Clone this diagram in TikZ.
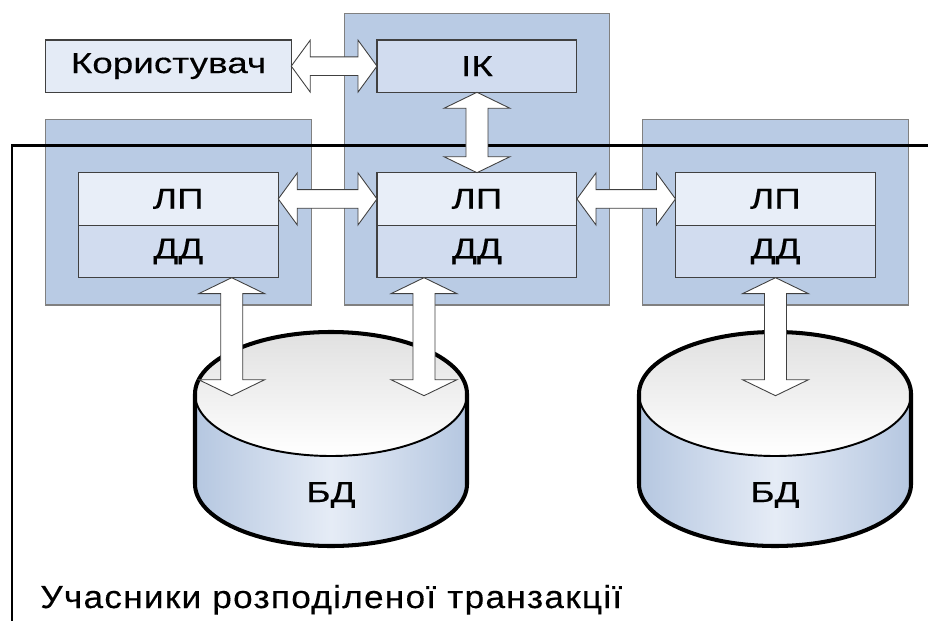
\documentclass[tikz,border=0pt]{standalone}
\usepackage{fontspec}
\setmainfont{Liberation Sans}
\newfontfamily\lblfont{Liberation Sans}[FakeStretch=1.28,FakeBold=0.3]
\newfontfamily\capfont{Liberation Sans}[FakeStretch=1.1,LetterSpace=4,FakeBold=0.3]
\usetikzlibrary{calc,positioning}

\tikzset{
  lbl/.style={font=\lblfont\fontsize{16.4}{19}\selectfont},
  outerbox/.style={draw=cedge,fill=couter,line width=0.8pt,anchor=north west,inner sep=0pt,outer sep=0pt},
  innerbox/.style={draw=cinedge,line width=0.6pt,inner sep=0pt,outer sep=0pt,minimum width=4cm,minimum height=1.05cm,lbl},
  blockarrow/.style={draw=black!75,fill=white,line width=0.5pt,line join=miter},
  frameline/.style={line width=1.4pt},
}

% double block arrow, left end to right end
\newcommand{\dblarrowh}[2]{%
  \path (#1) coordinate (aS) (#2) coordinate (aE);
  \draw[blockarrow] (aS) -- ($(aS)+(19,-26)$) -- ($(aS)+(19,-9.3)$) -- ($(aE)+(-19,-9.3)$)
    -- ($(aE)+(-19,-26)$) -- (aE) -- ($(aE)+(-19,26)$) -- ($(aE)+(-19,9.3)$)
    -- ($(aS)+(19,9.3)$) -- ($(aS)+(19,26)$) -- cycle;}
% double block arrow, top end to bottom end
\newcommand{\dblarrowv}[2]{%
  \path (#1) coordinate (aS) (#2) coordinate (aE);
  \draw[blockarrow] (aS) -- ($(aS)+(33,16)$) -- ($(aS)+(11,16)$) -- ($(aE)+(11,-16)$)
    -- ($(aE)+(33,-16)$) -- (aE) -- ($(aE)+(-33,-16)$) -- ($(aE)+(-11,-16)$)
    -- ($(aS)+(-11,16)$) -- ($(aS)+(-33,16)$) -- cycle;}
% database cylinder, #1 centre of the top, #2 name
\newcommand{\dbcyl}[2]{%
  \begin{scope}[shift={(#1)}]
    \shade[left color=cside,right color=cside,middle color=csidemid]
      (-136,0) -- (-136,90) arc[start angle=180,end angle=0,x radius=136,y radius=62]
      -- (136,0) arc[start angle=0,end angle=180,x radius=136,y radius=62] -- cycle;
    \shade[top color=ctop,bottom color=white] (0,0) ellipse[x radius=136,y radius=62];
    \draw[line width=1.1pt] (136,0) arc[start angle=0,end angle=180,x radius=136,y radius=62];
    \draw[line width=2.3pt] (-136,0) arc[start angle=180,end angle=360,x radius=136,y radius=62]
      -- (136,90) arc[start angle=0,end angle=180,x radius=136,y radius=62] -- cycle;
    \node[lbl,anchor=base] (#2) at (0,108) {БД};
  \end{scope}}

\begin{document}
\begin{tikzpicture}[x=0.02cm,y=-0.02cm]
  \definecolor{couter}{rgb}{0.725,0.796,0.894}
  \definecolor{cedge}{rgb}{0.5,0.5,0.5}
  \definecolor{cinedge}{rgb}{0.25,0.25,0.25}
  \definecolor{clp}{rgb}{0.91,0.933,0.973}
  \definecolor{cdd}{rgb}{0.82,0.863,0.937}
  \definecolor{cuser}{rgb}{0.894,0.922,0.965}
  \definecolor{cside}{rgb}{0.71,0.78,0.88}
  \definecolor{csidemid}{rgb}{0.9,0.925,0.965}
  \definecolor{ctop}{rgb}{0.88,0.88,0.88}
  \useasboundingbox (0,0) rectangle (928,621);
  %
  \node[outerbox,minimum width=5.308cm,minimum height=5.826cm] (boxC) at (344.3,13.7) {};
  \node[outerbox,minimum width=5.312cm,minimum height=3.714cm] (boxL) at (45.7,119.3) {};
  \node[outerbox,minimum width=5.312cm,minimum height=3.714cm] (boxR) at (642.7,119.3) {};
  %
  \coordinate (frameC) at (12,145.7);
  \draw[frameline] (928,145.7) -- (frameC) -- (12,621);
  %
  \node[innerbox,fill=cuser,anchor=north west,minimum width=4.912cm,minimum height=1.046cm] (user) at (45.7,40) {Користувач};
  \node[innerbox,fill=cdd,anchor=north west,minimum height=1.046cm] (ik) at (377,40) {ІК};
  \node[innerbox,fill=clp,anchor=north west] (lp1) at (78.3,172.7) {ЛП};
  \node[innerbox,fill=cdd,below=0pt of lp1] (dd1) {ДД};
  \node[innerbox,fill=clp,anchor=north west] (lp2) at (377,172.7) {ЛП};
  \node[innerbox,fill=cdd,below=0pt of lp2] (dd2) {ДД};
  \node[innerbox,fill=clp,anchor=north west] (lp3) at (675.5,172.7) {ЛП};
  \node[innerbox,fill=cdd,below=0pt of lp3] (dd3) {ДД};
  %
  \dbcyl{331,394}{db1}
  \dbcyl{775,394}{db2}
  \coordinate (db1a) at (231.7,395.7);
  \coordinate (db1b) at (424,395.7);
  \coordinate (db2a) at (775.5,395.7);
  %
  \dblarrowh{user.east}{ik.west}
  \dblarrowv{ik.south}{lp2.north}
  \dblarrowh{lp1.east}{lp2.west}
  \dblarrowh{lp2.east}{lp3.west}
  \dblarrowv{dd1.south -| db1a}{db1a}
  \dblarrowv{dd2.south -| db1b}{db1b}
  \dblarrowv{dd3.south -| db2a}{db2a}
  %
  \node[anchor=base west,inner sep=0pt,font=\capfont\fontsize{18.2}{22}\selectfont] (caption) at (40,608) {Учасники розподіленої транзакції};
\end{tikzpicture}
\end{document}
